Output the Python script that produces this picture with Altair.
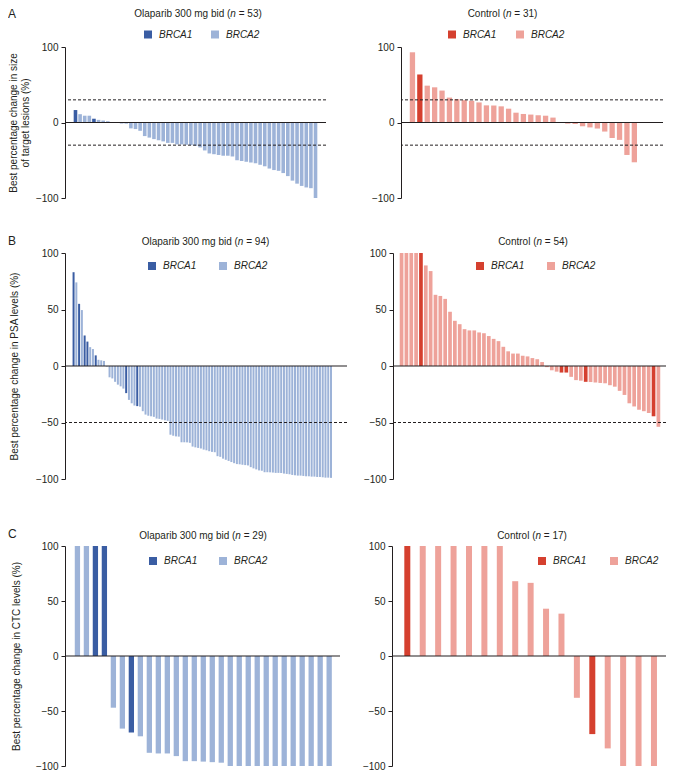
import altair as alt
import pandas as pd

FONT = "Liberation Sans"
INK = "#231f20"

GENES = ["BRCA1", "BRCA2"]
BLUES = ["#3a5da3", "#9db3d8"]
REDS = ["#d5402f", "#eea29a"]

# ---------------- Panel A: best % change in size of target lesions ----------------
a_ola_vals = [16.5, 11, 9, 9, 5, 3.5, 2.6, 1.7, 0.5, -0.5, -1, -1.5, -7.8, -8.7, -11,
              -18, -20, -22, -23.5, -25, -27, -27, -29, -29, -29.5, -30, -31, -33, -37,
              -41, -42, -43, -44, -44, -45, -50, -51, -52, -53, -54, -56, -58, -61, -63,
              -64, -67, -71, -77, -81, -84, -86, -87, -100]
a_ola_brca1 = [0, 4, 10]

a_ctl_vals = [93, 63.6, 48.8, 46.6, 42.3, 33, 31, 29.6, 28.8, 26.6, 22.7, 22.5, 21.4,
              18.3, 13, 11.3, 10.5, 9.6, 9, 6.5, -0.5, -1.5, -2, -5, -6.5, -8, -12,
              -20.5, -23, -43, -52.7]
a_ctl_brca1 = [1]

# ---------------- Panel B: best % change in PSA levels ----------------
b_ola_vals = [83, 74, 55, 49.5, 27, 21.6, 16.7, 15, 9.4, 5.5, 5, 4.5, -0.5, -10, -11,
              -14, -16.5, -18, -20, -24, -30, -33, -35, -35.5, -36, -40, -43, -44,
              -44.5, -45, -46.5, -46.8, -47.4, -48, -48.5, -60.8, -61.7, -62.3, -62.5,
              -67.5, -67.5, -67.6, -68, -71.3, -72, -72.5, -73, -74, -74.6, -75.4, -76,
              -76.3, -79.8, -80.4, -82, -83, -84, -85, -86, -86.8, -87, -87.4, -87.7,
              -88, -89.5, -90.6, -91.5, -92.4, -92.7, -94, -94, -94.1, -94.3, -94.6,
              -94.6, -94.7, -95.2, -95.5, -95.8, -96.4, -96.7, -97, -97, -97.3, -97.6,
              -97.6, -97.9, -97.9, -98.2, -98.2, -98.5, -98.8, -98.8, -99]
b_ola_brca1 = [0, 2, 4, 5, 8, 19, 23]

b_ctl_vals = [100, 100, 100, 100, 100, 89, 84, 63, 62, 59.4, 48, 40, 37, 32.6, 31.5,
              31.5, 29.7, 29, 26.5, 24, 22, 17, 13, 11, 11, 9, 8.5, 7, 6, 3.5, -1,
              -3.8, -5, -5.8, -5.8, -9.6, -12.5, -13, -14, -14.2, -14.6, -15, -15.3,
              -17, -18.3, -22, -25.6, -33, -35.8, -38.7, -40, -41.6, -44.5, -53.8]
b_ctl_brca1 = [4, 33, 34, 38, 52]

# ---------------- Panel C: best % change in CTC levels ----------------
c_ola_vals = [100, 100, 100, 100, -47, -66, -69.5, -73, -88, -88.6, -88.6, -91, -95.6,
              -95.6, -96, -96.5, -97, -100, -100, -100, -100, -100, -100, -100, -100,
              -100, -100, -100, -100]
c_ola_brca1 = [2, 3, 6]

c_ctl_vals = [100, 100, 100, 100, 100, 100, 100, 68, 66.5, 43, 38.5, -38, -71, -84,
              -100, -100, -100]
c_ctl_brca1 = [0, 12]

Y_TICKS = [-100, -50, 0, 50, 100]

# Arial / Liberation Sans advance widths (per 1000 em) for title layout
ADV = {" ": 278, "(": 333, ")": 333, "=": 584, "O": 778, "C": 722, "l": 222, "a": 556,
       "p": 556, "r": 333, "i": 222, "b": 556, "m": 833, "g": 556, "d": 556, "n": 556,
       "o": 556, "t": 278}
for _d in "0123456789":
    ADV[_d] = 556


def tw(s, size=10):
    return sum(ADV.get(ch, 556) for ch in s) * size / 1000.0


def txt(s, x, y, size=10, style="normal", align="left"):
    return alt.Chart(pd.DataFrame({"t": [s]})).mark_text(
        align=align, baseline="middle", fontSize=size, fontStyle=style, font=FONT, color=INK
    ).encode(text="t:N", x=alt.value(x), y=alt.value(y))


def panel(vals, brca1, colors, W, H, first, step, barw, pre, post, tc, ty,
          legx, legy, colpad, dashes, ytitle=None, ytx=None, letter=None, lety=None):
    df = pd.DataFrame({
        "i": list(range(len(vals))),
        "v": vals,
        "g": ["BRCA1" if k in brca1 else "BRCA2" for k in range(len(vals))],
    })
    d0 = -first / step
    d1 = d0 + W / step
    axis_kw = dict(values=Y_TICKS, tickSize=4, labelPadding=3, grid=False,
                   labelFontSize=10, labelFont=FONT, labelColor=INK,
                   domainColor=INK, tickColor=INK)
    if ytitle is not None:
        axis_kw.update(title=ytitle, titleX=ytx, titleY=H / 2, titleAngle=270,
                       titleAlign="center", titleBaseline="middle", titleFontSize=10,
                       titleFont=FONT, titleFontWeight="normal", titleColor=INK,
                       titleLineHeight=12)
    else:
        axis_kw.update(title=None)
    bars = alt.Chart(df).mark_bar(size=barw, orient="vertical").encode(
        x=alt.X("i:Q", scale=alt.Scale(domain=[d0, d1], nice=False, zero=False), axis=None),
        y=alt.Y("v:Q", scale=alt.Scale(domain=[-100, 100], nice=False), axis=alt.Axis(**axis_kw),
                stack=None),
        color=alt.Color("g:N", scale=alt.Scale(domain=GENES, range=colors),
                        legend=alt.Legend(orient="none", legendX=legx, legendY=legy,
                                          direction="horizontal", title=None,
                                          symbolType="square", symbolSize=64,
                                          symbolStrokeWidth=0, symbolOpacity=1,
                                          labelFontStyle="italic", labelFontSize=10,
                                          labelFont=FONT, labelColor=INK, labelOffset=6,
                                          columnPadding=colpad, padding=0)),
    )
    layers = [bars]
    one = pd.DataFrame({"k": [0]})
    layers.append(alt.Chart(one).mark_rule(color=INK, strokeWidth=1.2).encode(y=alt.datum(0)))
    for dv in dashes:
        layers.append(alt.Chart(one).mark_rule(color=INK, strokeWidth=1, strokeDash=[3, 2])
                      .encode(y=alt.datum(dv)))
    # title: pre + italic n + " = N)"  (leading space handled by offset)
    w_pre, w_n, w_sp = tw(pre), tw("n"), tw(" ")
    total = w_pre + w_n + w_sp + tw(post)
    x0 = tc - total / 2
    layers.append(txt(pre, x0, ty))
    layers.append(txt("n", x0 + w_pre, ty, style="italic"))
    layers.append(txt(post, x0 + w_pre + w_n + w_sp, ty))
    if letter is not None:
        layers.append(txt(letter, -57, lety, size=12))
    return alt.layer(*layers).properties(width=W, height=H)


A_H, B_H, C_H = 151, 226, 220

pa1 = panel(a_ola_vals, a_ola_brca1, BLUES, 261, A_H, 5.7, 4.8, 3.6,
            "Olaparib 300 mg bid (", "= 53)", 133, -33, 78, -17.5, 17, [30, -30],
            ["Best percentage change in size", "of target lesions (%)"], -52, "A", -33)
pa2 = panel(a_ctl_vals, a_ctl_brca1, REDS, 262, A_H, 6.7, 7.69, 5.3,
            "Control (", "= 31)", 101.5, -33, 46, -17.5, 18, [30, -30])

pb1 = panel(b_ola_vals, b_ola_brca1, BLUES, 282, B_H, 3.7, 2.87, 2.0,
            "Olaparib 300 mg bid (", "= 94)", 140.5, -11, 82, 8, 21, [-50],
            "Best percentage change in PSA levels (%)", -51, "B", -12.5)
pb2 = panel(b_ctl_vals, b_ctl_brca1, REDS, 273, B_H, 3.7, 5.03, 3.7,
            "Control (", "= 54)", 140, -11, 82, 8, 21, [-50])

pc1 = panel(c_ola_vals, c_ola_brca1, BLUES, 275, C_H, 7.7, 9.33, 5.3,
            "Olaparib 300 mg bid (", "= 29)", 138, -10, 83, 10, 20, [],
            "Best percentage change in CTC levels (%)", -49, "C", -12)
pc2 = panel(c_ctl_vals, c_ctl_brca1, REDS, 274, C_H, 10.7, 16, 6.0,
            "Control (", "= 17)", 140, -10, 145, 10, 22, [])

rowA = alt.hconcat(pa1, pa2, spacing=75, bounds="flush").resolve_scale(color="independent")
rowB = alt.hconcat(pb1, pb2, spacing=46, bounds="flush").resolve_scale(color="independent")
rowC = alt.hconcat(pc1, pc2, spacing=52, bounds="flush").resolve_scale(color="independent")

top = alt.vconcat(rowA, rowB, spacing=31).resolve_scale(color="independent")
chart = alt.vconcat(top, rowC, spacing=44).resolve_scale(
    color="independent"
).properties(padding=0).configure_view(strokeWidth=0).configure_text(font=FONT)

chart.save("out.html", embed_options={"renderer": "svg", "actions": False})
